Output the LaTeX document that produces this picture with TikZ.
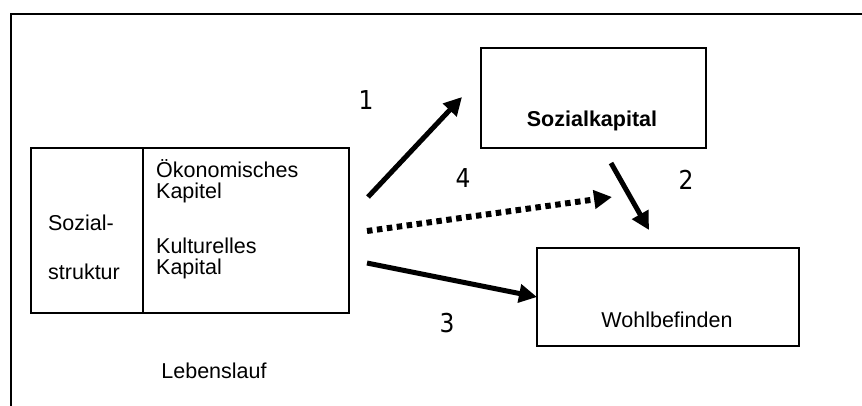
\documentclass[tikz,border=0pt]{standalone}
\usepackage{fontspec}
\setmainfont{Liberation Sans}
\newfontfamily\digitfont[FakeStretch=0.9]{DejaVu Sans}
\usetikzlibrary{arrows.meta}
\begin{document}
\begin{tikzpicture}[x=1pt,y=-1pt,
  box/.style={draw,line width=1.6pt,inner sep=0pt,anchor=north west},
  lbl/.style={inner sep=0pt,font=\fontsize{21.5}{25}\selectfont},
  num/.style={inner sep=0pt,font=\digitfont\fontsize{26}{30}\selectfont},
  flow/.style={line width=5pt,-{Triangle[length=18pt,width=18pt]}},
  dotflow/.style={flow,line width=6pt,dash pattern=on 5.5pt off 4.5pt}]
\useasboundingbox (0,0) rectangle (862,405);
% outer frame, running past the right and bottom edges
\draw[line width=1.8pt] (11,430) -- (11,14) -- (880,14);
% left block: social structure and forms of capital
\node[box,minimum width=112pt,minimum height=165pt] (struct) at (30,147) {};
\node[box,minimum width=206pt,minimum height=165pt] (capital) at (142,147) {};
\node[lbl] (sozial) at (81,223) {Sozial-};
\node[lbl] (struktur) at (84,272) {struktur};
\node[lbl,anchor=west] (oek) at (156,169) {Ökonomisches};
\node[lbl,anchor=west] (kap1) at (156,193) {Kapitel};
\node[lbl,anchor=west] (kult) at (156,246) {Kulturelles};
\node[lbl,anchor=west] (kap2) at (156,269) {Kapital};
\node[lbl] (leben) at (214,371) {Lebenslauf};
% right boxes
\node[box,minimum width=225pt,minimum height=100pt] (sk) at (480,47) {};
\node[lbl,font=\fontsize{21.5}{25}\selectfont\bfseries] (sktext) at (592,121) {Sozialkapital};
\node[box,minimum width=262pt,minimum height=98pt] (wb) at (536,247) {};
\node[lbl] (wbtext) at (667,320) {Wohlbefinden};
% arrow ends
\coordinate (a1s) at (368,197);
\coordinate (a1e) at (462,97);
\coordinate (a4s) at (367,231);
\coordinate (a4e) at (612,197);
\coordinate (a2s) at (611,163);
\coordinate (a2e) at (649,230);
\coordinate (a3s) at (367,263);
\coordinate (a3e) at (537,297);
\draw[flow] (a1s) -- (a1e);
\draw[dotflow] (a4s) -- (a4e);
\draw[flow] (a2s) -- (a2e);
\draw[flow] (a3s) -- (a3e);
% path numbers
\node[num] (n1) at (366,100) {1};
\node[num] (n4) at (463,178) {4};
\node[num] (n2) at (686,180) {2};
\node[num] (n3) at (447,323) {3};
\end{tikzpicture}
\end{document}
